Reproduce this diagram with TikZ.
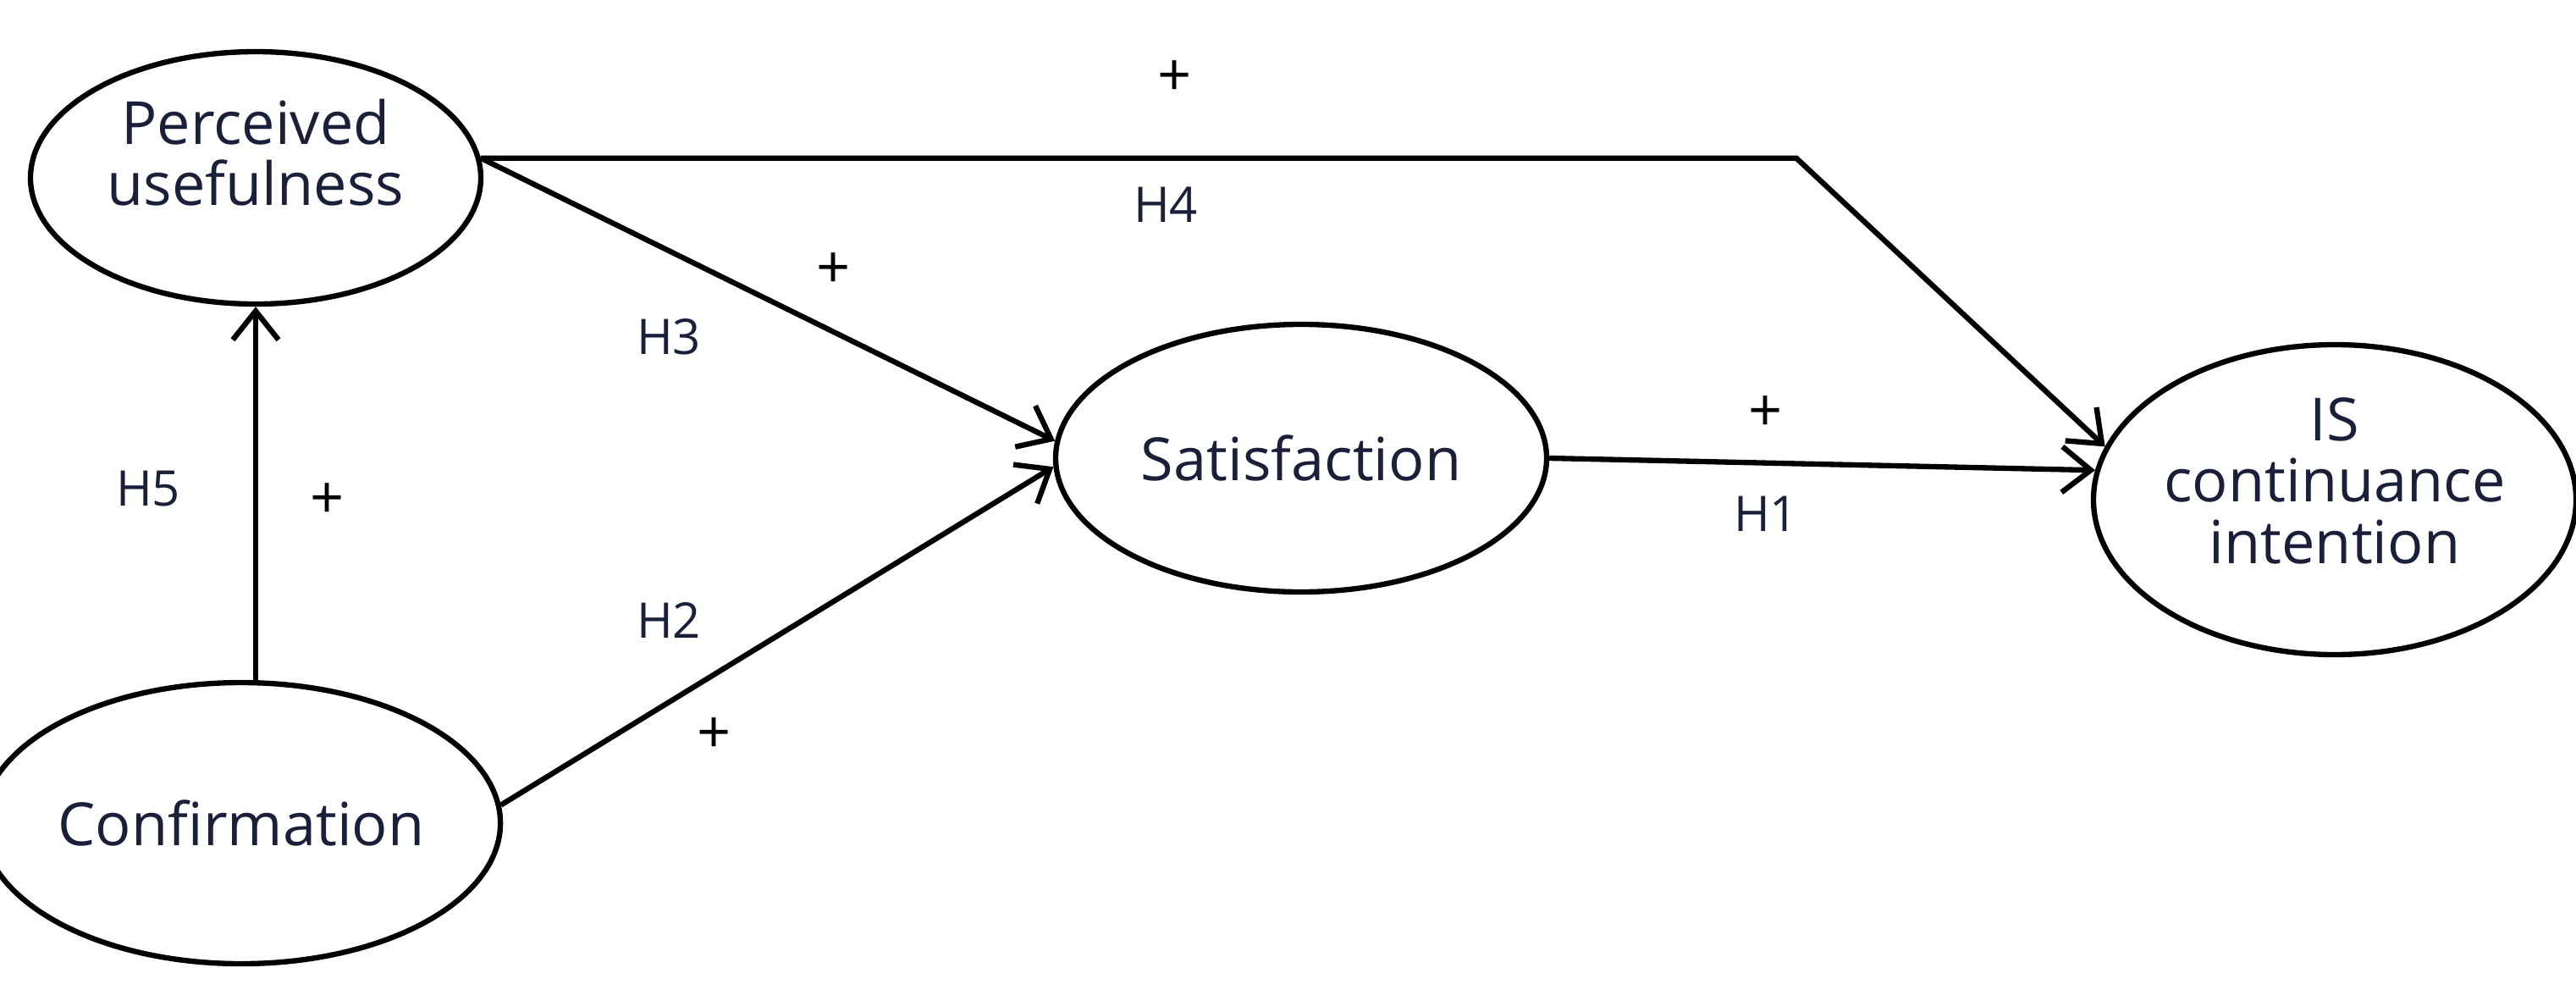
\documentclass[tikz,border=0pt]{standalone}
\usepackage{fontspec}
\setmainfont{Open Sans}
\usepackage{tikz}
\usetikzlibrary{arrows.meta,positioning,shapes.geometric}
\definecolor{inkNavy}{HTML}{1A1F3A}

\begin{document}
\begin{tikzpicture}[
    construct/.style={draw,ellipse,line width=1.8pt,inner sep=0pt,align=center,
      text=inkNavy,font=\fontsize{20}{20.5}\selectfont},
    hyp/.style={text=inkNavy,font=\fontsize{16.5}{18}\selectfont,inner sep=0pt},
    sign/.style={font=\fontsize{20}{20}\selectfont,inner sep=0pt},
    arrow/.style={-{Straight Barb[length=3.4mm,width=5.4mm]},line width=1.8pt}
  ]
    \useasboundingbox (0,0) rectangle (30.43,11.68);
    \node[construct,minimum width=5.32cm,minimum height=2.98cm,text depth=0.6cm] (pu) at (3.02,9.58) {Perceived\\usefulness};
    \node[construct,minimum width=5.49cm,minimum height=3.32cm] (conf) at (2.85,1.96) {Confirmation};
    \node[construct,minimum width=5.80cm,minimum height=3.16cm] (sat) at (15.37,6.27) {Satisfaction};
    \node[construct,minimum width=5.40cm,minimum height=3.66cm,text depth=0.45cm] (isci) at (27.58,5.78) {IS\\continuance\\intention};
    \coordinate (bend) at ([xshift=15.54cm]pu.5);
    \draw[arrow] (pu.south |- conf.north) -- (pu.south);
    \draw[arrow] (pu.5) -- (sat.176);
    \draw[arrow] (conf.4) -- (sat.182);
    \draw[arrow] (pu.5) -- (bend) -- (isci.167);
    \draw[arrow] (sat.east) -- (isci.173);
    % hypothesis labels
    \node[sign] (plusH4) at (13.88,10.75) {+};
    \node[hyp] (labH4) at (13.77,9.26) {H4};
    \node[sign] (plusH3) at (9.85,8.48) {+};
    \node[hyp] (labH3) at (7.90,7.70) {H3};
    \node[hyp] (labH5) at (1.75,5.91) {H5};
    \node[sign] (plusH5) at (3.87,5.76) {+};
    \node[hyp] (labH2) at (7.90,4.36) {H2};
    \node[sign] (plusH2) at (8.44,2.99) {+};
    \node[sign] (plusH1) at (20.86,6.79) {+};
    \node[hyp] (labH1) at (20.86,5.61) {H1};
\end{tikzpicture}
\end{document}
